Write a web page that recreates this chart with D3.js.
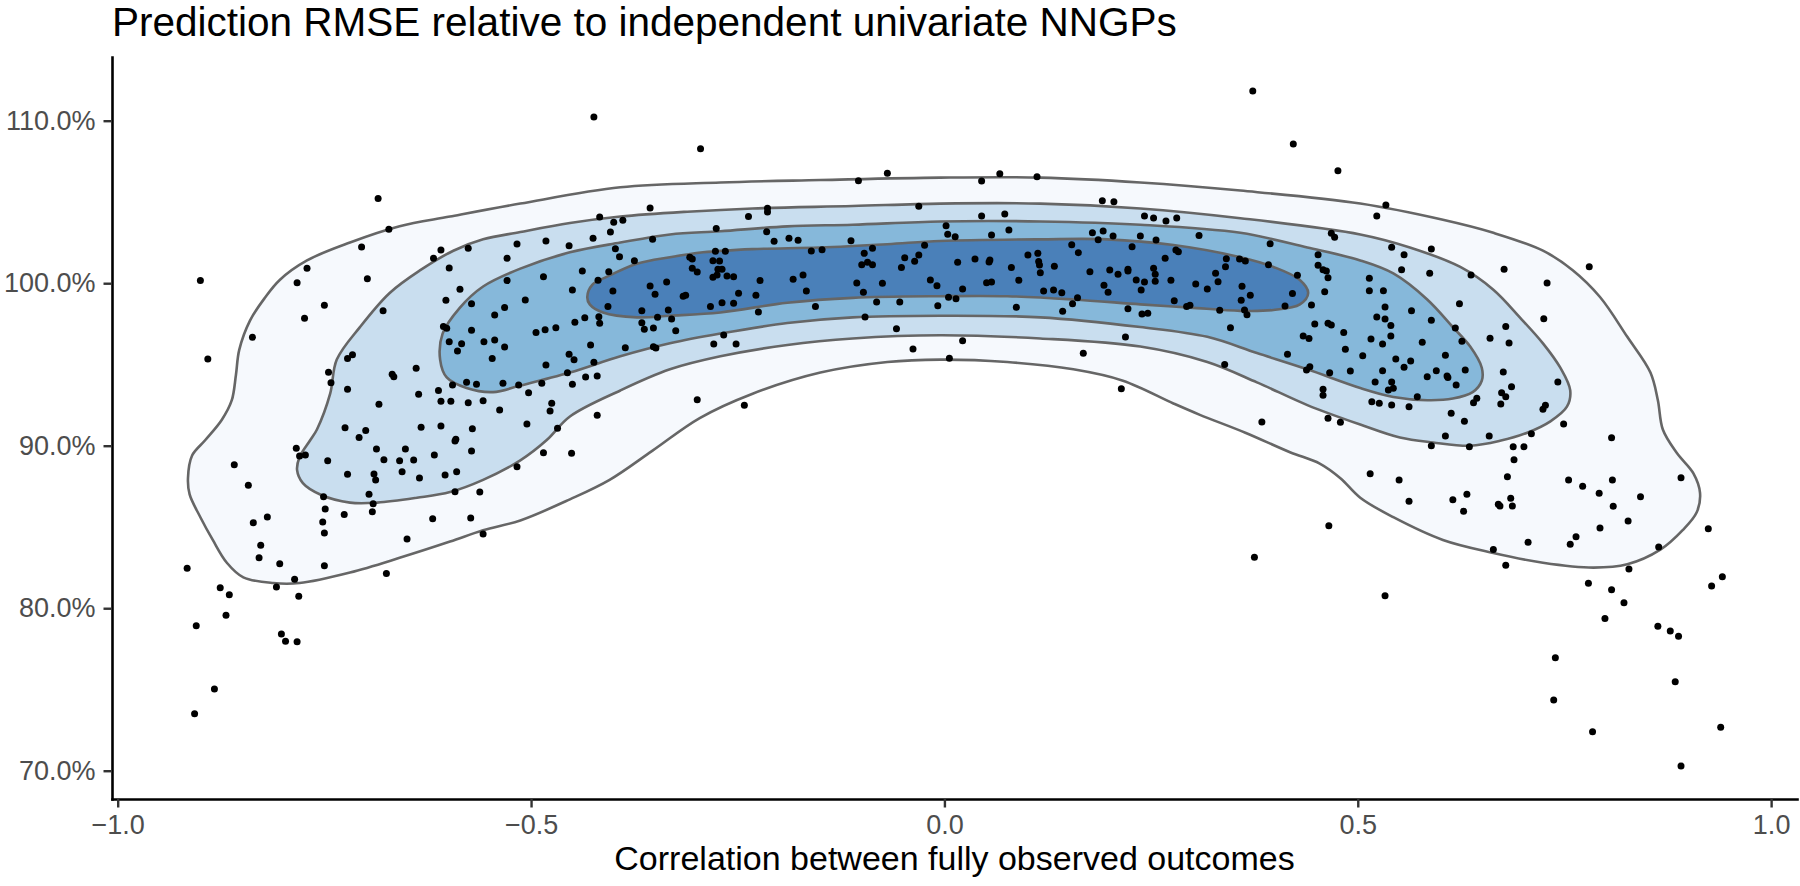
<!DOCTYPE html>
<html><head><meta charset="utf-8">
<script src="https://cdn.jsdelivr.net/npm/d3@7"></script>
<style>html,body{margin:0;padding:0;background:#fff;} svg{display:block;}</style>
</head><body>
<svg id="chart" width="1800" height="886"></svg>
<script>
const titleText = "Prediction RMSE relative to independent univariate NNGPs";
const xTitleText = "Correlation between fully observed outcomes";
const xTicks = [-1, -0.5, 0, 0.5, 1];
const xTickLabels = ["\u22121.0", "\u22120.5", "0.0", "0.5", "1.0"];
const yTicks = [70, 80, 90, 100, 110];
const yTickLabels = ["70.0%", "80.0%", "90.0%", "100.0%", "110.0%"];
const xDomain = [-1.0069, 1.0313];
const yDomain = [68.26, 113.92];
const levelColors = ["#F6F9FD", "#C9DEEF", "#86B8DA", "#4A80B9"];

// density contour levels (x = correlation, y = RMSE %)
const contour1 = [[-0.915,88.0],[-0.910,89.4],[-0.894,90.35],[-0.874,91.6],[-0.862,92.8],[-0.857,94.35],[-0.853,95.9],[-0.840,97.7],[-0.822,99.1],[-0.804,100.2],[-0.771,101.4],[-0.719,102.5],[-0.659,103.5],[-0.598,104.1],[-0.513,104.9],[-0.392,105.9],[-0.271,106.2],[-0.150,106.35],[-0.005,106.5],[0.116,106.5],[0.237,106.2],[0.358,105.7],[0.503,104.9],[0.603,103.9],[0.664,103.1],[0.724,102.0],[0.760,100.8],[0.793,99.15],[0.826,96.7],[0.854,94.5],[0.863,92.8],[0.869,91.0],[0.886,89.55],[0.906,88.3],[0.914,87.1],[0.910,85.9],[0.893,84.8],[0.866,83.6],[0.826,82.7],[0.785,82.5],[0.724,82.8],[0.664,83.4],[0.603,84.2],[0.543,85.6],[0.503,86.8],[0.479,88.0],[0.454,88.9],[0.418,89.6],[0.364,90.8],[0.309,91.9],[0.277,92.6],[0.216,94.0],[0.156,94.7],[0.076,95.15],[-0.005,95.3],[-0.069,95.15],[-0.150,94.5],[-0.232,93.2],[-0.296,91.7],[-0.353,89.7],[-0.405,87.9],[-0.453,86.7],[-0.513,85.4],[-0.558,84.8],[-0.598,84.1],[-0.659,83.1],[-0.719,82.2],[-0.780,81.55],[-0.812,81.55],[-0.848,81.9],[-0.868,82.8],[-0.885,84.2],[-0.900,85.6],[-0.913,87.0]];
const contour2 = [[-0.783,88.5],[-0.780,89.3],[-0.767,90.35],[-0.759,91.0],[-0.743,93.2],[-0.735,95.3],[-0.707,97.3],[-0.671,99.4],[-0.634,100.8],[-0.594,102.0],[-0.558,102.7],[-0.513,103.15],[-0.453,103.7],[-0.392,104.1],[-0.311,104.4],[-0.232,104.6],[-0.111,104.75],[-0.005,104.9],[0.116,104.9],[0.237,104.6],[0.358,104.0],[0.503,103.0],[0.563,102.2],[0.624,101.0],[0.664,99.6],[0.696,97.9],[0.724,96.3],[0.745,94.8],[0.757,93.4],[0.753,92.4],[0.733,91.5],[0.705,90.8],[0.672,90.3],[0.636,90.0],[0.591,90.2],[0.551,90.5],[0.503,91.3],[0.439,92.5],[0.378,93.9],[0.318,95.15],[0.237,96.1],[0.116,96.6],[-0.005,96.8],[-0.111,96.6],[-0.190,96.2],[-0.271,95.5],[-0.332,94.7],[-0.392,93.4],[-0.453,91.8],[-0.481,90.35],[-0.513,89.1],[-0.558,87.9],[-0.598,87.15],[-0.638,86.8],[-0.686,86.5],[-0.719,86.5],[-0.755,87.0],[-0.776,87.7]];
const contour3 = [[-0.610,95.3],[-0.607,96.9],[-0.586,98.5],[-0.558,99.8],[-0.513,100.9],[-0.453,101.9],[-0.392,102.5],[-0.332,103.0],[-0.271,103.2],[-0.190,103.5],[-0.111,103.6],[-0.005,103.8],[0.116,103.8],[0.237,103.6],[0.358,103.1],[0.439,102.2],[0.503,101.4],[0.543,100.6],[0.584,99.0],[0.615,97.3],[0.636,96.1],[0.650,94.8],[0.650,94.0],[0.639,93.3],[0.615,92.9],[0.584,92.8],[0.543,93.0],[0.503,93.55],[0.439,94.7],[0.378,95.7],[0.318,96.7],[0.237,97.3],[0.116,97.9],[-0.005,98.0],[-0.111,97.9],[-0.190,97.55],[-0.271,96.9],[-0.332,96.3],[-0.392,95.5],[-0.453,94.5],[-0.513,93.7],[-0.546,93.3],[-0.578,93.55],[-0.602,94.2]];
const contour4 = [[-0.432,99.15],[-0.426,99.9],[-0.408,100.4],[-0.372,101.2],[-0.332,101.6],[-0.292,101.9],[-0.232,102.1],[-0.151,102.2],[-0.069,102.4],[-0.005,102.6],[0.116,102.7],[0.197,102.7],[0.277,102.35],[0.358,101.6],[0.398,101.0],[0.430,100.2],[0.440,99.4],[0.430,98.7],[0.398,98.35],[0.358,98.3],[0.297,98.5],[0.237,98.7],[0.156,99.0],[0.076,99.2],[-0.005,99.2],[-0.111,99.1],[-0.190,98.8],[-0.271,98.2],[-0.332,98.0],[-0.372,97.9],[-0.413,98.2],[-0.429,98.7]];

// simulation results: [correlation, relative RMSE %]
const points = [
[-0.685,105.22],[-0.672,103.32],[-0.705,102.23],[-0.771,100.92],[-0.783,100.03],[-0.900,100.16],[-0.698,100.28],[-0.750,98.64],[-0.774,97.84],[-0.837,96.67],[-0.891,95.34],[-0.618,101.53],[-0.609,102.05],[-0.576,102.15],[-0.599,100.94],[-0.529,101.53],[-0.517,102.41],[-0.529,100.16],[-0.586,99.63],[-0.603,98.95],[-0.572,98.74],[-0.679,98.31],[-0.544,98.05],[-0.532,98.50],[-0.606,97.33],[-0.602,97.23],[-0.572,97.10],[-0.599,96.40],[-0.584,96.28],[-0.589,95.83],[-0.557,96.40],[-0.544,96.51],[-0.532,96.08],[-0.547,95.36],[-0.716,95.60],[-0.722,95.36],[-0.745,94.52],[-0.742,93.88],[-0.722,93.47],[-0.668,94.40],[-0.666,94.25],[-0.639,94.77],[-0.636,93.17],[-0.612,93.39],[-0.609,92.74],[-0.597,92.74],[-0.576,92.65],[-0.558,92.77],[-0.538,92.20],[-0.595,93.74],[-0.578,93.90],[-0.566,93.78],[-0.534,93.84],[-0.515,93.74],[-0.684,92.55],[-0.725,91.11],[-0.700,90.93],[-0.708,90.50],[-0.633,91.14],[-0.609,91.22],[-0.571,91.05],[-0.591,90.40],
[-0.784,89.84],[-0.780,89.37],[-0.773,89.43],[-0.746,89.08],[-0.687,89.80],[-0.678,89.14],[-0.652,89.80],[-0.659,89.08],[-0.642,89.12],[-0.617,89.43],[-0.592,90.29],[-0.572,89.68],[-0.517,88.71],[-0.859,88.83],[-0.842,87.56],[-0.722,88.24],[-0.690,88.26],[-0.688,87.89],[-0.656,88.40],[-0.635,88.01],[-0.604,88.20],[-0.590,88.40],[-0.592,87.17],[-0.562,87.15],[-0.751,86.86],[-0.696,87.01],[-0.691,86.43],[-0.749,86.11],[-0.726,85.76],[-0.692,85.94],[-0.836,85.26],[-0.819,85.61],[-0.752,85.31],[-0.750,84.63],[-0.619,85.51],[-0.573,85.55],[-0.558,84.57],[-0.650,84.26],[-0.827,83.87],[-0.829,83.11],[-0.804,82.74],[-0.750,82.62],[-0.916,82.46],[-0.786,81.78],[-0.808,81.31],[-0.781,80.73],[-0.675,82.13],[-0.876,81.26],[-0.865,80.83],[-0.869,79.56],[-0.905,78.92],[-0.802,78.41],[-0.797,77.96],[-0.783,77.94],[-0.883,75.03],[-0.907,73.51],
[-0.485,89.57],[-0.451,89.53],
[-0.424,110.23],[-0.295,108.28],[-0.104,106.31],[-0.069,106.76],[-0.356,104.63],[-0.417,104.08],[-0.400,103.75],[-0.389,103.87],[-0.404,103.15],[-0.425,102.76],[-0.482,102.60],[-0.454,102.31],[-0.353,102.70],[-0.398,102.12],[-0.393,101.63],[-0.375,101.38],[-0.406,100.71],[-0.438,100.75],[-0.485,100.40],[-0.419,100.18],[-0.450,99.58],[-0.507,98.97],[-0.401,99.52],[-0.407,98.56],[-0.418,97.94],[-0.417,97.53],[-0.435,97.88],[-0.447,97.60],[-0.470,97.26],[-0.483,97.14],[-0.494,96.96],[-0.428,96.20],[-0.454,95.63],[-0.448,95.29],[-0.424,95.13],[-0.482,94.97],[-0.456,94.49],[-0.434,94.23],[-0.420,94.29],[-0.450,93.78],[-0.487,93.84],[-0.503,93.26],[-0.475,92.61],[-0.477,92.14],[-0.505,91.34],[-0.468,91.07],[-0.420,91.87],[-0.386,96.03],[-0.352,96.09],[-0.349,96.01],[-0.366,98.31],[-0.366,97.57],[-0.363,97.16],[-0.352,97.24],[-0.347,97.90],[-0.334,98.35],[-0.330,97.80],[-0.325,97.08],[-0.356,99.83],[-0.350,99.32],[-0.336,100.07],[-0.316,99.20],[-0.313,99.26],[-0.308,101.60],[-0.305,101.49],[-0.305,100.92],[-0.299,100.69],[-0.276,103.36],[-0.277,101.97],[-0.265,101.97],[-0.280,101.38],[-0.272,101.37],[-0.274,100.86],[-0.269,100.86],[-0.280,100.37],[-0.275,100.51],[-0.263,100.45],[-0.255,100.40],[-0.249,99.38],[-0.255,98.77],[-0.269,98.80],[-0.283,98.56],[-0.267,96.82],[-0.279,96.26],[-0.252,96.26],[-0.237,104.10],[-0.214,104.61],[-0.214,104.38],[-0.215,103.17],[-0.206,102.58],[-0.188,102.76],[-0.177,102.64],[-0.161,101.98],[-0.148,102.06],[-0.113,102.62],[-0.223,100.16],[-0.228,99.26],[-0.225,98.23],[-0.183,100.24],[-0.171,100.51],[-0.167,99.52],[-0.156,98.56],[-0.106,100.02],[-0.098,99.44],[-0.082,98.85],[-0.075,99.99],[-0.097,101.84],[-0.087,102.15],[-0.100,101.14],[-0.093,101.29],[-0.087,101.14],[-0.054,98.85],[-0.052,100.96],[-0.048,101.57],[-0.036,101.35],[-0.031,101.74],[-0.024,102.34],[-0.031,104.74],[-0.017,100.20],[-0.009,99.85],[-0.008,98.62],[-0.096,97.92],[-0.058,97.20],[-0.038,95.95],[-0.299,92.83],[-0.242,92.49],
[0.373,111.83],[0.422,108.57],[0.476,106.92],[0.045,106.29],[0.067,106.74],[0.112,106.55],[0.191,105.08],[0.205,105.02],[0.045,104.14],[0.073,104.26],[0.242,104.14],[0.253,104.02],[0.268,103.83],[0.281,104.02],[0.002,103.54],[0.004,103.01],[0.013,102.86],[0.057,102.97],[0.078,103.28],[0.179,103.11],[0.192,103.22],[0.186,102.68],[0.204,102.91],[0.237,102.91],[0.256,102.66],[0.308,102.93],[0.394,102.43],[0.468,103.07],[0.472,102.83],[0.154,102.37],[0.162,101.88],[0.227,102.25],[0.280,102.05],[0.283,101.94],[0.267,101.53],[0.341,101.51],[0.357,101.49],[0.364,101.37],[0.340,101.02],[0.392,101.14],[0.452,101.75],[0.452,101.10],[0.458,100.83],[0.462,100.75],[0.464,100.34],[0.427,100.49],[0.016,101.29],[0.037,101.49],[0.055,101.43],[0.054,101.31],[0.081,100.96],[0.101,101.74],[0.113,101.84],[0.114,101.33],[0.115,101.12],[0.133,101.04],[0.116,100.65],[0.090,100.18],[0.176,100.71],[0.200,100.82],[0.210,100.55],[0.222,100.86],[0.222,100.75],[0.253,100.92],[0.255,100.55],[0.255,100.12],[0.274,100.18],[0.232,100.20],[0.242,100.07],[0.238,99.58],[0.193,99.87],[0.198,99.44],[0.051,100.03],[0.057,100.07],[0.022,99.65],[0.120,99.52],[0.132,99.58],[0.142,99.42],[0.161,99.11],[0.155,98.74],[0.143,98.27],[0.087,98.52],[0.005,99.13],[0.014,99.05],[0.304,99.95],[0.318,99.64],[0.328,100.61],[0.331,100.09],[0.360,99.81],[0.370,99.26],[0.359,98.95],[0.421,99.36],[0.460,99.48],[0.444,98.66],[0.412,98.60],[0.278,98.92],[0.293,98.56],[0.297,98.64],[0.333,98.33],[0.363,98.35],[0.366,98.06],[0.222,98.43],[0.239,98.11],[0.246,98.15],[0.219,96.69],[0.346,97.26],[0.448,97.49],[0.464,97.53],[0.468,97.43],[0.483,96.96],[0.434,96.75],[0.441,96.59],[0.485,95.93],[0.415,95.63],[0.339,94.99],[0.442,94.86],[0.438,94.66],[0.466,94.49],[0.491,94.60],[0.458,93.47],[0.458,93.10],[0.214,93.51],[0.168,95.69],[0.022,96.46],[0.006,95.38],[0.464,91.69],[0.479,91.44],[0.384,91.46],
[0.534,104.81],[0.523,104.14],[0.541,102.21],[0.556,101.75],[0.589,102.10],[0.553,100.83],[0.587,100.61],[0.637,100.51],[0.677,100.86],[0.780,101.02],[0.729,100.02],[0.514,100.30],[0.514,99.54],[0.531,99.54],[0.533,98.54],[0.565,98.31],[0.523,97.92],[0.533,97.80],[0.540,97.39],[0.589,97.72],[0.623,98.74],[0.618,97.24],[0.540,96.75],[0.516,96.57],[0.530,96.26],[0.578,96.37],[0.626,96.43],[0.660,96.61],[0.679,97.33],[0.683,96.32],[0.725,97.82],[0.506,95.54],[0.546,95.34],[0.556,94.83],[0.564,95.21],[0.606,95.57],[0.530,94.62],[0.595,94.62],[0.608,94.29],[0.630,94.66],[0.584,94.25],[0.609,94.19],[0.619,93.74],[0.521,93.92],[0.541,93.92],[0.543,93.53],[0.537,93.43],[0.676,94.54],[0.686,93.63],[0.674,93.26],[0.679,93.02],[0.673,92.57],[0.742,93.92],[0.572,93.02],[0.517,92.71],[0.526,92.61],[0.541,92.51],[0.562,92.40],[0.644,92.92],[0.640,92.65],[0.613,92.00],[0.727,92.49],[0.724,92.24],[0.629,91.50],[0.749,91.34],[0.606,90.60],[0.659,90.60],[0.710,90.74],[0.807,90.49],
[0.589,90.00],[0.635,89.94],[0.688,89.94],[0.701,89.94],[0.689,89.14],[0.515,88.28],[0.550,87.89],[0.562,86.58],[0.615,86.68],[0.632,87.01],[0.628,85.97],[0.681,88.09],[0.685,86.76],[0.687,86.29],[0.670,86.40],[0.672,86.29],[0.755,87.89],[0.772,87.50],[0.792,87.07],[0.808,87.89],[0.842,86.86],[0.891,88.03],[0.809,86.27],[0.827,85.37],[0.793,84.94],[0.764,84.40],[0.757,83.93],[0.706,84.06],[0.664,83.62],[0.679,82.64],[0.864,83.77],[0.828,82.41],[0.924,84.89],[0.941,81.94],[0.928,81.37],[0.779,81.53],[0.807,81.14],[0.822,80.34],[0.799,79.36],[0.533,80.77],[0.863,78.89],[0.878,78.60],[0.888,78.27],[0.739,76.95],[0.884,75.48],[0.737,74.35],[0.784,72.40],[0.939,72.67],[0.891,70.29],
[0.465,85.08],[0.375,83.13]
];

const W = 1800, H = 886;
const panel = {left: 112, right: 1797, top: 57, bottom: 799};
const font = "'Liberation Sans', Arial, Helvetica, sans-serif";

const svg = d3.select("#chart");
const x = d3.scaleLinear().domain(xDomain).range([panel.left, panel.right]);
const y = d3.scaleLinear().domain(yDomain).range([panel.bottom, panel.top]);

const line = d3.line().x(d => x(d[0])).y(d => y(d[1])).curve(d3.curveCatmullRomClosed.alpha(0.5));
const contours = [contour1, contour2, contour3, contour4];

const gC = svg.append("g");
gC.selectAll("path.fill").data(contours).join("path")
  .attr("class", "fill")
  .attr("d", d => line(d))
  .attr("fill", (d, i) => levelColors[i])
  .attr("stroke", "none");
gC.selectAll("path.edge").data(contours).join("path")
  .attr("class", "edge")
  .attr("d", d => line(d))
  .attr("fill", "none")
  .attr("stroke", "#666666")
  .attr("stroke-width", 2.6);

svg.append("g").selectAll("circle").data(points).join("circle")
  .attr("cx", d => x(d[0]))
  .attr("cy", d => y(d[1]))
  .attr("r", 3.5)
  .attr("fill", "#000");

// axes
const xAxis = d3.axisBottom(x).tickValues(xTicks).tickFormat((d, i) => xTickLabels[i])
  .tickSize(8.5).tickSizeOuter(0).tickPadding(7.5);
const yAxis = d3.axisLeft(y).tickValues(yTicks).tickFormat((d, i) => yTickLabels[i])
  .tickSize(8.5).tickSizeOuter(0).tickPadding(8);

const gx = svg.append("g").attr("transform", `translate(0,${panel.bottom})`).call(xAxis);
const gy = svg.append("g").attr("transform", `translate(${panel.left},0)`).call(yAxis);
[gx, gy].forEach(g => {
  g.select(".domain").attr("stroke", "#000").attr("stroke-width", 2.6).attr("stroke-linecap", "square");
  g.selectAll(".tick line").attr("stroke", "#333333").attr("stroke-width", 2.4);
  g.selectAll(".tick text").attr("fill", "#4D4D4D").style("font-family", font).style("font-size", "27px");
});

svg.append("text")
  .attr("x", panel.left).attr("y", 36)
  .style("font-family", font).style("font-size", "40.5px").attr("fill", "#000")
  .text(titleText);

svg.append("text")
  .attr("x", (panel.left + panel.right) / 2).attr("y", 870)
  .attr("text-anchor", "middle")
  .style("font-family", font).style("font-size", "34px").attr("fill", "#000")
  .text(xTitleText);
</script>
</body></html>
